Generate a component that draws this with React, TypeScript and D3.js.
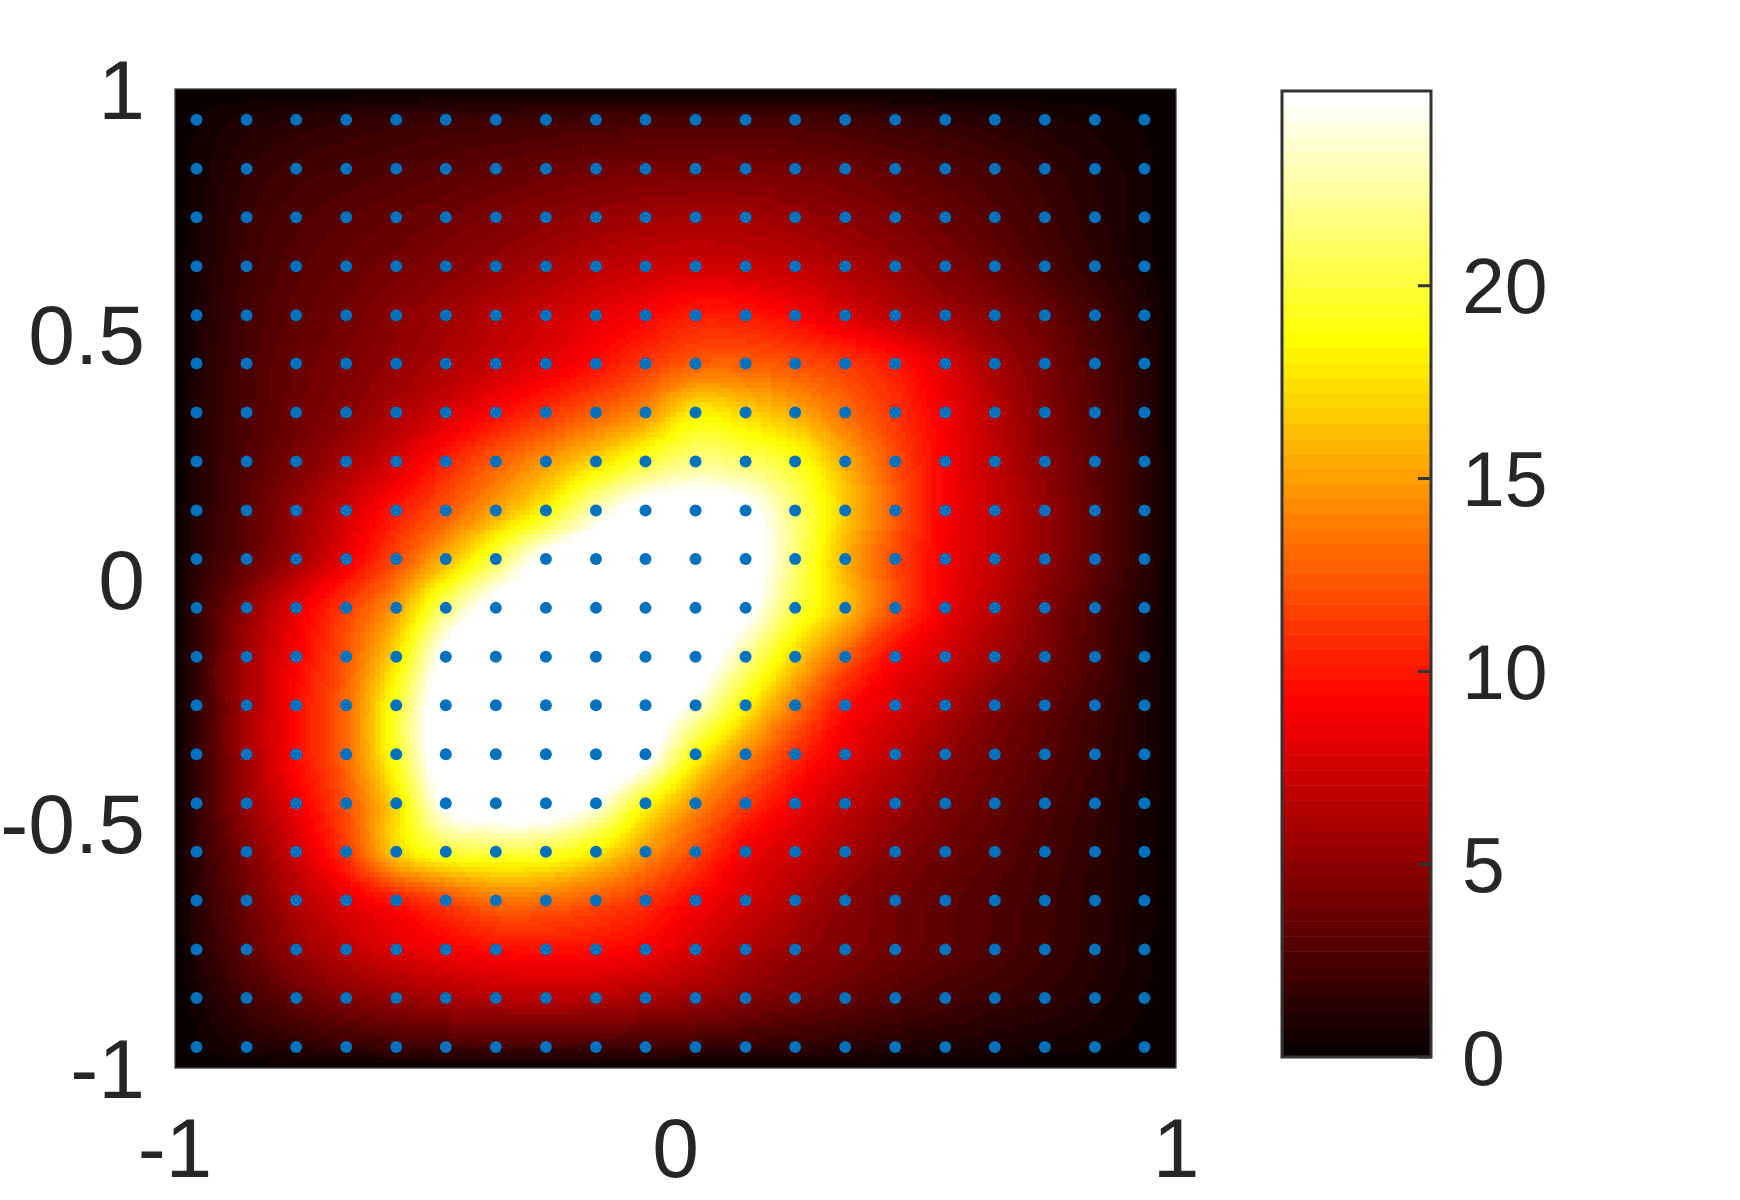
import React, { useEffect, useState } from 'react';
import * as d3 from 'd3';

// sample points (blue dots)
const dotX = [-0.957, -0.857, -0.758, -0.658, -0.558, -0.459, -0.359, -0.259, -0.159, -0.06,
  0.04, 0.14, 0.239, 0.339, 0.439, 0.539, 0.638, 0.738, 0.838, 0.937];
const dotY = [0.937, 0.837, 0.738, 0.638, 0.538, 0.439, 0.339, 0.239, 0.139, 0.04,
  -0.06, -0.16, -0.259, -0.359, -0.459, -0.558, -0.658, -0.758, -0.857, -0.957];

// field value at every dot, rows from top (y = 0.937) to bottom (y = -0.957)
// values above the colour limit are shown white
const fieldRows = [
  [0.4, 0.9, 1.2, 1.5, 1.7, 1.9, 2.0, 2.1, 2.2, 2.3, 2.4, 2.4, 2.3, 2.1, 1.8, 1.5, 1.2, 0.9, 0.6, 0.3],
  [0.5, 1.5, 2.1, 2.4, 2.7, 3.0, 3.3, 3.6, 3.9, 4.1, 4.2, 4.2, 4.0, 3.7, 3.3, 2.8, 2.3, 1.7, 1.1, 0.5],
  [0.6, 1.9, 2.6, 3.1, 3.5, 3.9, 4.4, 4.9, 5.3, 5.7, 5.9, 5.8, 5.4, 4.9, 4.3, 3.6, 2.9, 2.1, 1.3, 0.5],
  [0.7, 2.1, 3.0, 3.6, 4.1, 4.7, 5.3, 6.0, 6.7, 7.2, 7.5, 7.3, 6.9, 6.2, 5.4, 4.5, 3.6, 2.6, 1.6, 0.6],
  [0.8, 2.3, 3.3, 4.0, 4.9, 5.6, 6.5, 7.3, 8.2, 9.1, 10.2, 10.0, 9.2, 7.9, 6.7, 5.7, 4.7, 3.6, 2.3, 1.0],
  [0.9, 2.5, 3.6, 4.4, 5.3, 6.2, 7.2, 8.3, 9.6, 11.2, 12.6, 12.7, 12.1, 11.2, 9.9, 7.9, 5.9, 4.3, 2.8, 1.2],
  [1.0, 2.6, 3.8, 4.8, 6.2, 7.6, 9.4, 11.0, 12.7, 14.5, 18.0, 17.0, 15.5, 13.2, 11.0, 8.7, 6.6, 4.6, 3.0, 1.3],
  [1.0, 2.8, 4.3, 6.0, 7.8, 10.3, 12.6, 14.8, 17.2, 19.9, 21.9, 21.1, 19.3, 15.6, 12.0, 9.0, 6.9, 4.9, 3.2, 1.4],
  [1.1, 3.1, 5.2, 7.5, 10.0, 12.4, 15.3, 18.6, 23.2, 26.0, 26.5, 25.5, 21.4, 16.7, 12.6, 9.0, 7.2, 5.3, 3.3, 1.4],
  [1.3, 3.4, 5.8, 8.6, 11.9, 15.8, 20.6, 25.5, 27.0, 28.0, 28.0, 26.5, 21.4, 15.8, 11.9, 8.8, 7.1, 5.2, 3.3, 1.4],
  [1.7, 5.0, 8.3, 11.4, 15.0, 21.5, 26.0, 28.0, 29.0, 29.0, 28.0, 25.5, 20.3, 16.3, 11.9, 8.6, 6.6, 4.6, 2.8, 1.1],
  [1.8, 5.8, 9.0, 12.4, 17.5, 25.5, 28.0, 30.0, 30.0, 30.0, 27.0, 22.2, 17.0, 12.6, 9.2, 7.5, 5.8, 4.2, 2.7, 1.0],
  [1.8, 5.8, 9.5, 13.0, 19.6, 27.0, 29.0, 31.0, 30.0, 27.0, 23.8, 18.4, 13.6, 9.7, 7.9, 6.3, 4.6, 3.4, 2.2, 0.9],
  [1.8, 5.8, 9.5, 13.0, 19.5, 27.0, 29.0, 30.0, 29.0, 26.0, 18.8, 14.4, 10.8, 8.4, 6.8, 5.2, 4.0, 3.0, 1.9, 0.8],
  [1.7, 5.4, 8.6, 12.2, 17.5, 25.2, 27.0, 27.0, 24.5, 19.0, 14.5, 11.3, 8.8, 7.0, 5.7, 4.4, 3.5, 2.6, 1.7, 0.7],
  [1.5, 4.5, 7.5, 11.1, 16.8, 19.8, 20.3, 20.0, 18.0, 14.8, 11.8, 8.8, 7.4, 6.0, 4.7, 3.8, 3.1, 2.3, 1.5, 0.6],
  [1.3, 3.8, 6.3, 8.2, 10.0, 11.7, 13.4, 13.2, 12.3, 11.0, 9.1, 7.7, 6.3, 4.9, 4.0, 3.3, 2.7, 2.1, 1.4, 0.6],
  [1.0, 3.3, 5.3, 6.8, 8.0, 8.9, 9.5, 9.7, 9.5, 8.9, 7.6, 6.3, 5.3, 4.5, 3.8, 3.2, 2.6, 2.0, 1.3, 0.5],
  [0.6, 2.2, 3.5, 4.6, 5.3, 6.0, 6.5, 6.6, 6.5, 6.0, 5.5, 4.7, 4.0, 3.4, 2.8, 2.3, 1.9, 1.5, 1.0, 0.4],
  [0.3, 0.9, 1.3, 1.7, 2.0, 2.2, 2.3, 2.3, 2.2, 2.1, 1.9, 1.7, 1.5, 1.3, 1.0, 0.9, 0.7, 0.6, 0.4, 0.2],
];
const edgeValue = 0; // field is zero on the square's border

const xTicks = [-1, 0, 1];
const yTicks = [1, 0.5, 0, -0.5, -1];
const cbarTicks = [0, 5, 10, 15, 20];
const colorLimits = [0, 25.05];
const nColors = 64;

const W = 1740;
const H = 1200;
const plot = { left: 175, right: 1176, top: 89, bottom: 1068 };
const cbar = { left: 1282, right: 1431, top: 91, bottom: 1057 };
const imgN = 200;
const textColor = '#262626';
const font = '"Liberation Sans", Arial, Helvetica, sans-serif';

// matlab hot(64)
function hotColor(i) {
  const n1 = Math.floor((3 / 8) * nColors);
  const r = Math.min(1, (i + 1) / n1);
  const g = Math.max(0, Math.min(1, (i + 1 - n1) / n1));
  const b = Math.max(0, Math.min(1, (i + 1 - 2 * n1) / (nColors - 2 * n1)));
  return [Math.round(r * 255), Math.round(g * 255), Math.round(b * 255)];
}
const hotTable = d3.range(nColors).map(hotColor);

function colorIndex(v) {
  const t = (v - colorLimits[0]) / (colorLimits[1] - colorLimits[0]);
  return Math.max(0, Math.min(nColors - 1, Math.floor(t * nColors)));
}

// cubic hermite through the grid nodes, for drawing only
function hermite(xs, vs, x) {
  const n = xs.length;
  let i = d3.bisectRight(xs, x) - 1;
  i = Math.max(0, Math.min(n - 2, i));
  const slope = (k) => {
    if (k <= 0) return (vs[1] - vs[0]) / (xs[1] - xs[0]);
    if (k >= n - 1) return (vs[n - 1] - vs[n - 2]) / (xs[n - 1] - xs[n - 2]);
    return (vs[k + 1] - vs[k - 1]) / (xs[k + 1] - xs[k - 1]);
  };
  const h = xs[i + 1] - xs[i];
  const t = (x - xs[i]) / h;
  const t2 = t * t;
  const t3 = t2 * t;
  return (2 * t3 - 3 * t2 + 1) * vs[i] + (t3 - 2 * t2 + t) * h * slope(i)
    + (-2 * t3 + 3 * t2) * vs[i + 1] + (t3 - t2) * h * slope(i + 1);
}

function buildHeatImage() {
  const gx = [-1, ...dotX, 1];
  const gu = [-1, ...dotY.map((y) => -y), 1]; // -y, ascending
  const pad = (row) => [edgeValue, ...row, edgeValue];
  const rows = [
    gx.map(() => edgeValue),
    ...fieldRows.map(pad),
    gx.map(() => edgeValue),
  ];
  const cx = d3.range(imgN).map((i) => -1 + ((i + 0.5) * 2) / imgN);
  const alongX = rows.map((row) => cx.map((x) => hermite(gx, row, x)));

  const canvas = document.createElement('canvas');
  canvas.width = imgN;
  canvas.height = imgN;
  const ctx = canvas.getContext('2d');
  const img = ctx.createImageData(imgN, imgN);
  for (let j = 0; j < imgN; j++) {
    const u = -1 + ((j + 0.5) * 2) / imgN; // top row first
    for (let i = 0; i < imgN; i++) {
      const col = alongX.map((r) => r[i]);
      const v = hermite(gu, col, u);
      const c = hotTable[colorIndex(v)];
      const k = (j * imgN + i) * 4;
      img.data[k] = c[0];
      img.data[k + 1] = c[1];
      img.data[k + 2] = c[2];
      img.data[k + 3] = 255;
    }
  }
  ctx.putImageData(img, 0, 0);
  return canvas.toDataURL();
}

export default function App() {
  const [heatUrl, setHeatUrl] = useState('');

  useEffect(() => {
    setHeatUrl(buildHeatImage());
  }, []);

  const x = d3.scaleLinear().domain([-1, 1]).range([plot.left, plot.right]);
  const y = d3.scaleLinear().domain([-1, 1]).range([plot.bottom, plot.top]);
  const cy = d3.scaleLinear().domain(colorLimits).range([cbar.bottom, cbar.top]);

  const axisFs = 84;
  const cbarFs = 77;

  const dots = [];
  dotY.forEach((yy, r) =>
    dotX.forEach((xx, c) => dots.push({ x: xx, y: yy, key: `${r}-${c}` }))
  );

  const bands = d3.range(nColors).map((k) => {
    const v0 = colorLimits[0] + ((colorLimits[1] - colorLimits[0]) * k) / nColors;
    const v1 = colorLimits[0] + ((colorLimits[1] - colorLimits[0]) * (k + 1)) / nColors;
    const c = hotTable[k];
    return { k, y0: cy(v1), y1: cy(v0), fill: `rgb(${c[0]},${c[1]},${c[2]})` };
  });

  return (
    <svg
      width={W}
      height={H}
      style={{ position: 'absolute', left: 0, top: 0, background: '#fff' }}
      fontFamily={font}
    >
      <rect x={0} y={0} width={W} height={H} fill="#fff" />

      {heatUrl && (
        <image
          href={heatUrl}
          x={plot.left}
          y={plot.top}
          width={plot.right - plot.left}
          height={plot.bottom - plot.top}
          preserveAspectRatio="none"
          style={{ imageRendering: 'pixelated' }}
        />
      )}

      {dots.map((d) => (
        <circle key={d.key} cx={x(d.x)} cy={y(d.y)} r={6} fill="#0072BD" />
      ))}

      <rect
        x={plot.left}
        y={plot.top}
        width={plot.right - plot.left}
        height={plot.bottom - plot.top}
        fill="none"
        stroke="#404040"
        strokeWidth={1.3}
      />

      {xTicks.map((t) => (
        <text key={t} x={x(t)} y={1177} textAnchor="middle" fontSize={axisFs} fill={textColor}>
          {String(t)}
        </text>
      ))}
      {yTicks.map((t) => (
        <text key={t} x={145} y={y(t) + axisFs * 0.358} textAnchor="end" fontSize={axisFs} fill={textColor}>
          {String(t)}
        </text>
      ))}

      {/* colorbar */}
      {bands.map((b) => (
        <rect
          key={b.k}
          x={cbar.left}
          y={b.y0}
          width={cbar.right - cbar.left}
          height={b.y1 - b.y0 + 0.5}
          fill={b.fill}
        />
      ))}
      {cbarTicks.map((t) => (
        <line
          key={t}
          x1={cbar.right - 13}
          x2={cbar.right}
          y1={cy(t)}
          y2={cy(t)}
          stroke="#333"
          strokeWidth={3}
        />
      ))}
      <rect
        x={cbar.left}
        y={cbar.top}
        width={cbar.right - cbar.left}
        height={cbar.bottom - cbar.top}
        fill="none"
        stroke="#333"
        strokeWidth={3}
      />
      {cbarTicks.map((t) => (
        <text key={t} x={1462} y={cy(t) + cbarFs * 0.358} fontSize={cbarFs} fill={textColor}>
          {String(t)}
        </text>
      ))}
    </svg>
  );
}
